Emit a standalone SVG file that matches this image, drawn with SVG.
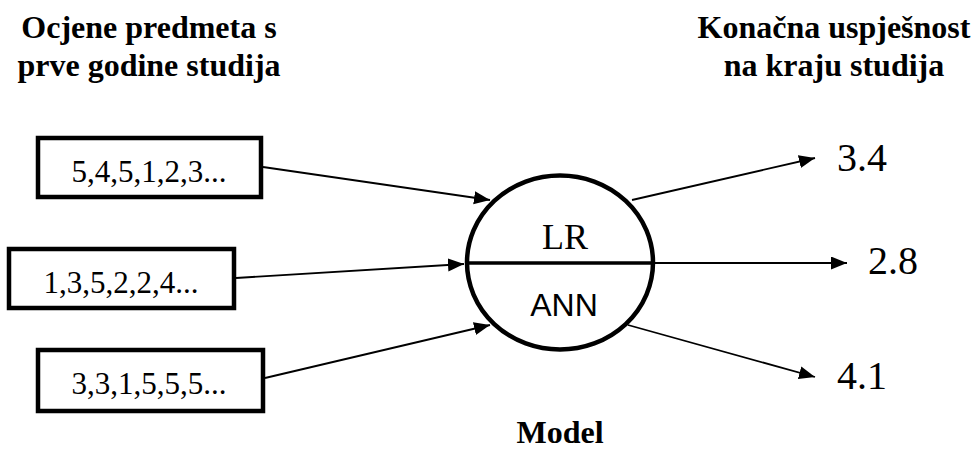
<svg xmlns="http://www.w3.org/2000/svg" width="978" height="450" viewBox="0 0 978 450">
<style>
.hdr{font-family:"Liberation Serif","DejaVu Serif","Noto Serif","Times New Roman",serif;font-weight:bold;font-size:32px;fill:#000;text-anchor:middle}
.val{font-family:"Liberation Serif","DejaVu Serif","Noto Serif","Times New Roman",serif;font-size:31px;fill:#000;text-anchor:middle}
.out{font-family:"Liberation Serif","DejaVu Serif","Noto Serif","Times New Roman",serif;font-size:40px;fill:#000}
.lr{font-family:"Liberation Serif","DejaVu Serif","Noto Serif","Times New Roman",serif;font-size:36px;fill:#000;text-anchor:middle}
.ann{font-family:"Liberation Sans",Arial,sans-serif;font-size:32px;fill:#000;text-anchor:middle}
.box{fill:#fff;stroke:#000;stroke-width:4.5}
.conn{stroke:#000;stroke-width:1.8;fill:none;marker-end:url(#ah)}
</style>
<defs>
<marker id="ah" markerUnits="userSpaceOnUse" markerWidth="18" markerHeight="14" refX="16" refY="6.5" orient="auto">
<path d="M0,0 L16,6.5 L0,13 Z" fill="#000"/>
</marker>
</defs>
<rect width="978" height="450" fill="#fff"/>
<g id="header-left">
<text class="hdr" x="149" y="38">Ocjene predmeta s</text>
<text class="hdr" x="149" y="76">prve godine studija</text>
</g>
<g id="header-right">
<text class="hdr" x="834" y="38">Konačna uspješnost</text>
<text class="hdr" x="834" y="76">na kraju studija</text>
</g>
<g id="connectors">
<line class="conn" x1="263" y1="167" x2="490" y2="200"/>
<line class="conn" x1="236" y1="278" x2="464" y2="264"/>
<line class="conn" x1="265" y1="378" x2="490" y2="325"/>
<line class="conn" x1="632" y1="200" x2="815" y2="158"/>
<line class="conn" x1="655" y1="263" x2="847" y2="263"/>
<line class="conn" x1="628" y1="325" x2="815" y2="377"/>
</g>
<g id="input1">
<rect class="box" x="38" y="138" width="223" height="59"/>
<text class="val" x="149" y="182">5,4,5,1,2,3...</text>
</g>
<g id="input2">
<rect class="box" x="9" y="249" width="225" height="59"/>
<text class="val" x="121" y="293">1,3,5,2,2,4...</text>
</g>
<g id="input3">
<rect class="box" x="38" y="350" width="225" height="61"/>
<text class="val" x="149" y="394">3,3,1,5,5,5...</text>
</g>
<g id="model">
<ellipse cx="560" cy="262.5" rx="93" ry="87" fill="#fff" stroke="#000" stroke-width="4.5"/>
<line x1="467" y1="263" x2="653" y2="263" stroke="#000" stroke-width="3.5"/>
<text class="lr" x="565" y="249">LR</text>
<text class="ann" x="564" y="316">ANN</text>
<text class="hdr" x="560" y="443">Model</text>
</g>
<g id="output1"><text class="out" x="837" y="171">3.4</text></g>
<g id="output2"><text class="out" x="868" y="274">2.8</text></g>
<g id="output3"><text class="out" x="837" y="389">4.1</text></g>
</svg>
